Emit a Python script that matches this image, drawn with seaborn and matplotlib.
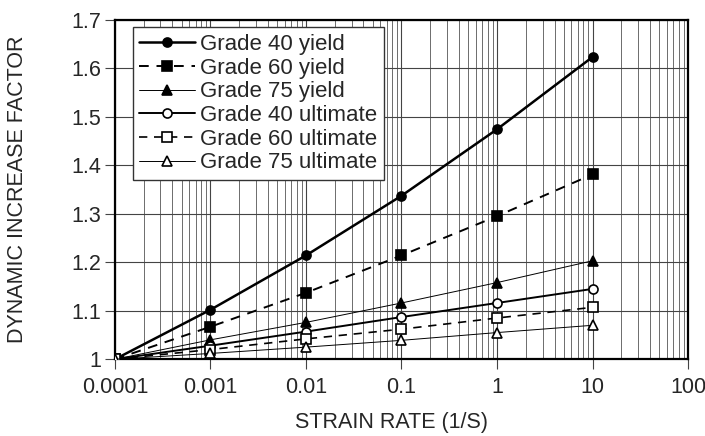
import numpy as np
import pandas as pd
import matplotlib
matplotlib.use("Agg")
import matplotlib.pyplot as plt
import seaborn as sns
from matplotlib.ticker import LogLocator, FixedLocator

sns.set_style("ticks")
plt.rcParams['font.family'] = ['Liberation Sans', 'DejaVu Sans']

# strain rates (1/s)
strain_rate = [0.0001, 0.001, 0.01, 0.1, 1, 10]

# dynamic increase factors
g40_yield = [1.0, 1.102, 1.214, 1.337, 1.474, 1.623]
g60_yield = [1.0, 1.067, 1.137, 1.214, 1.295, 1.381]
g75_yield = [1.0, 1.040, 1.076, 1.116, 1.158, 1.203]
g40_ult = [1.0, 1.028, 1.057, 1.087, 1.116, 1.145]
g60_ult = [1.0, 1.020, 1.042, 1.062, 1.085, 1.107]
g75_ult = [1.0, 1.012, 1.025, 1.039, 1.055, 1.070]

series = {
    'Grade 40 yield': g40_yield,
    'Grade 60 yield': g60_yield,
    'Grade 75 yield': g75_yield,
    'Grade 40 ultimate': g40_ult,
    'Grade 60 ultimate': g60_ult,
    'Grade 75 ultimate': g75_ult,
}

# (marker, filled, linestyle, linewidth)
styles = {
    'Grade 40 yield': ('o', True, '-', 1.8),
    'Grade 60 yield': ('s', True, (0, (5, 4)), 1.4),
    'Grade 75 yield': ('^', True, '-', 0.7),
    'Grade 40 ultimate': ('o', False, '-', 1.4),
    'Grade 60 ultimate': ('s', False, (0, (5, 4)), 1.2),
    'Grade 75 ultimate': ('^', False, '-', 0.7),
}

df = pd.concat([pd.DataFrame({'rate': strain_rate, 'dif': v, 'series': k})
                for k, v in series.items()], ignore_index=True)

fig, ax = plt.subplots(figsize=(7.05, 4.36), dpi=100)
fig.subplots_adjust(left=0.163, right=0.976, top=0.955, bottom=0.176)

for name in series:
    marker, filled, ls, lw = styles[name]
    sub = df[df['series'] == name]
    sns.lineplot(data=sub, x='rate', y='dif', ax=ax, color='black',
                 linestyle=ls, linewidth=lw, marker=marker, markersize=6.5,
                 markerfacecolor='black' if filled else 'white',
                 markeredgecolor='black', markeredgewidth=1.2,
                 label=name, zorder=3)

ax.set_xscale('log')
ax.set_xlim(0.0001, 100)
ax.set_ylim(1.0, 1.7)
ax.xaxis.set_major_locator(FixedLocator([1e-4, 1e-3, 1e-2, 1e-1, 1, 10, 100]))
ax.xaxis.set_minor_locator(LogLocator(base=10, subs=np.arange(2, 10)))
ax.set_xticklabels(['0.0001', '0.001', '0.01', '0.1', '1', '10', '100'])
ax.set_yticks(np.arange(1.0, 1.71, 0.1))
ax.set_yticklabels(['1', '1.1', '1.2', '1.3', '1.4', '1.5', '1.6', '1.7'])

ax.grid(True, which='major', axis='both', color='#444444', linewidth=0.8)
ax.grid(True, which='minor', axis='x', color='#555555', linewidth=0.6)
ax.tick_params(axis='both', which='major', labelsize=15.5, direction='out',
               length=7, color='#444444', pad=3)
ax.tick_params(axis='x', which='minor', length=0)
ax.tick_params(axis='x', pad=6)

for sp in ax.spines.values():
    sp.set_visible(True)
    sp.set_color('black')
    sp.set_linewidth(1.6)

ax.set_xlabel('STRAIN RATE (1/S)', fontsize=15.5)
ax.set_ylabel('DYNAMIC INCREASE FACTOR', fontsize=15.5)
ax.xaxis.set_label_coords(0.482, -0.155)
ax.yaxis.set_label_coords(-0.152, 0.5)

leg = ax.legend(loc='upper left', bbox_to_anchor=(0.031, 0.977), borderaxespad=0,
                fontsize=16, frameon=True, fancybox=False,
                edgecolor='#333333', framealpha=1, handlelength=2.5,
                labelspacing=0.12, borderpad=0.3, handletextpad=0.25)
leg.get_frame().set_linewidth(1.0)

fig.savefig('out.png', dpi=100)
